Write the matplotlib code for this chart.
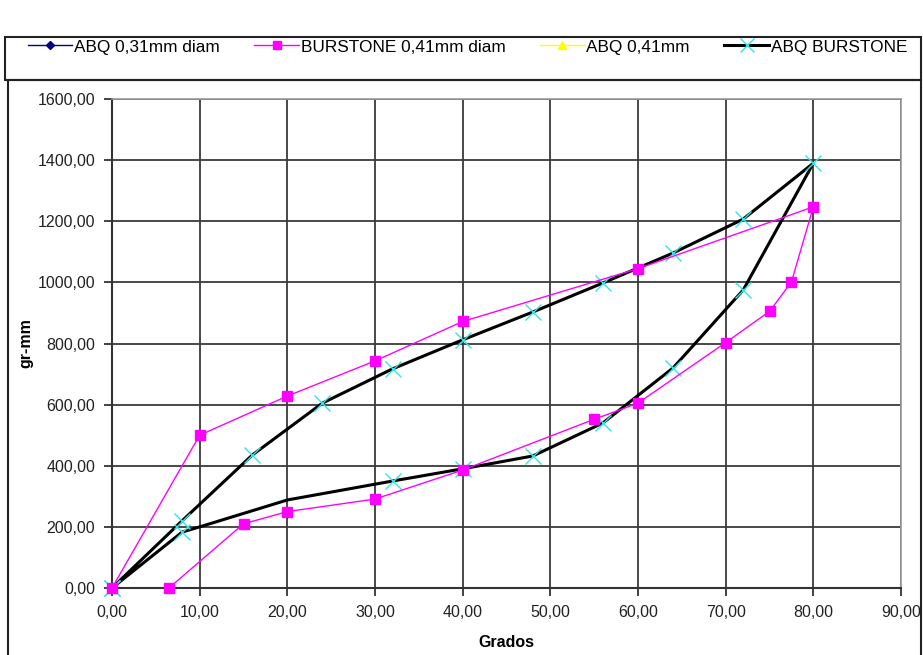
import matplotlib
matplotlib.use("Agg")
import matplotlib.pyplot as plt
from matplotlib.patches import Rectangle
from matplotlib.ticker import FuncFormatter, MultipleLocator

plt.rcParams['font.family'] = ['Liberation Sans', 'DejaVu Sans']

# series data
abq031_x = []
abq031_y = []
abq041_x = []
abq041_y = []
burstone_x = [0, 10, 20, 30, 40, 60, 80, 77.5, 75, 70, 60, 55, 40, 30, 20, 15, 6.5]
burstone_y = [0, 500, 628, 743, 872, 1045, 1247, 1001, 905, 803, 605, 552, 386, 291, 250, 210, 0]
abqb_x = [0, 8, 16, 24, 32, 40, 48, 56, 64, 72, 80, 72, 64, 56, 48, 40, 32, 20, 10, 8, 0]
abqb_y = [0, 220, 435, 605, 717, 812, 903, 998, 1096, 1207, 1390, 975, 720, 540, 432, 390, 350, 288, 200, 183, 0]
abqb_marked = [0, 1, 2, 3, 4, 5, 6, 7, 8, 9, 10, 11, 12, 13, 14, 15, 16, 19, 20]

W, H = 923, 655
fig = plt.figure(figsize=(W / 100, H / 100), dpi=100)
ax = fig.add_axes([112 / W, 1 - 588 / H, (901 - 112) / W, (588 - 99) / H])

# frames of the chart area and the legend box
fig.patches.append(Rectangle((8 / W, -0.05), (921 - 8) / W, 1 - 80 / H + 0.05,
                             transform=fig.transFigure, fill=False, ec='#222222', lw=1.5))
fig.patches.append(Rectangle((5 / W, 1 - 80 / H), (921 - 5) / W, 43 / H,
                             transform=fig.transFigure, fill=False, ec='#222222', lw=1.5))

h1, = ax.plot(abq031_x, abq031_y, color='#000080', marker='D', ms=5, lw=1,
              label='ABQ 0,31mm diam')
h2, = ax.plot(burstone_x, burstone_y, color='#ff00ff', marker='s', ms=7, lw=1,
              label='BURSTONE 0,41mm diam', zorder=4, clip_on=False)
h3, = ax.plot(abq041_x, abq041_y, color='#ffff00', marker='^', ms=7, lw=1,
              label='ABQ 0,41mm')
h4, = ax.plot(abqb_x, abqb_y, color='black', lw=2.2, marker='x', ms=12, mew=1,
              mec='#33e5e5', markevery=abqb_marked, label='ABQ BURSTONE',
              zorder=3, clip_on=False)

ax.set_xlim(0, 90)
ax.set_ylim(0, 1600)
ax.xaxis.set_major_locator(MultipleLocator(10))
ax.yaxis.set_major_locator(MultipleLocator(200))
fmt = FuncFormatter(lambda v, p: f"{v:.2f}".replace('.', ','))
ax.xaxis.set_major_formatter(fmt)
ax.yaxis.set_major_formatter(fmt)
ax.grid(True, color='#3a3a3a', lw=1.3)
ax.set_axisbelow(True)
for s in ['top', 'right']:
    ax.spines[s].set_color('#999999')
    ax.spines[s].set_linewidth(1.2)
for s in ['left', 'bottom']:
    ax.spines[s].set_color('#333333')
    ax.spines[s].set_linewidth(1.5)
ax.tick_params(direction='out', length=6, width=1.3, color='#333333',
               labelsize=11.5, labelcolor='#222222', pad=6)
ax.set_xlabel('Grados', fontsize=11.5, fontweight='bold', labelpad=11)
ax.set_ylabel('gr-mm', fontsize=11.5, fontweight='bold', labelpad=3)

leg = fig.legend(handles=[h1, h2, h3, h4], loc='center left', ncol=4,
                 bbox_to_anchor=(12 / W, 1 - 47 / H), frameon=False,
                 fontsize=12.4, handlelength=2.6, handletextpad=0.1,
                 columnspacing=2.0, markerscale=0.8)

fig.savefig('out.png', dpi=100)
